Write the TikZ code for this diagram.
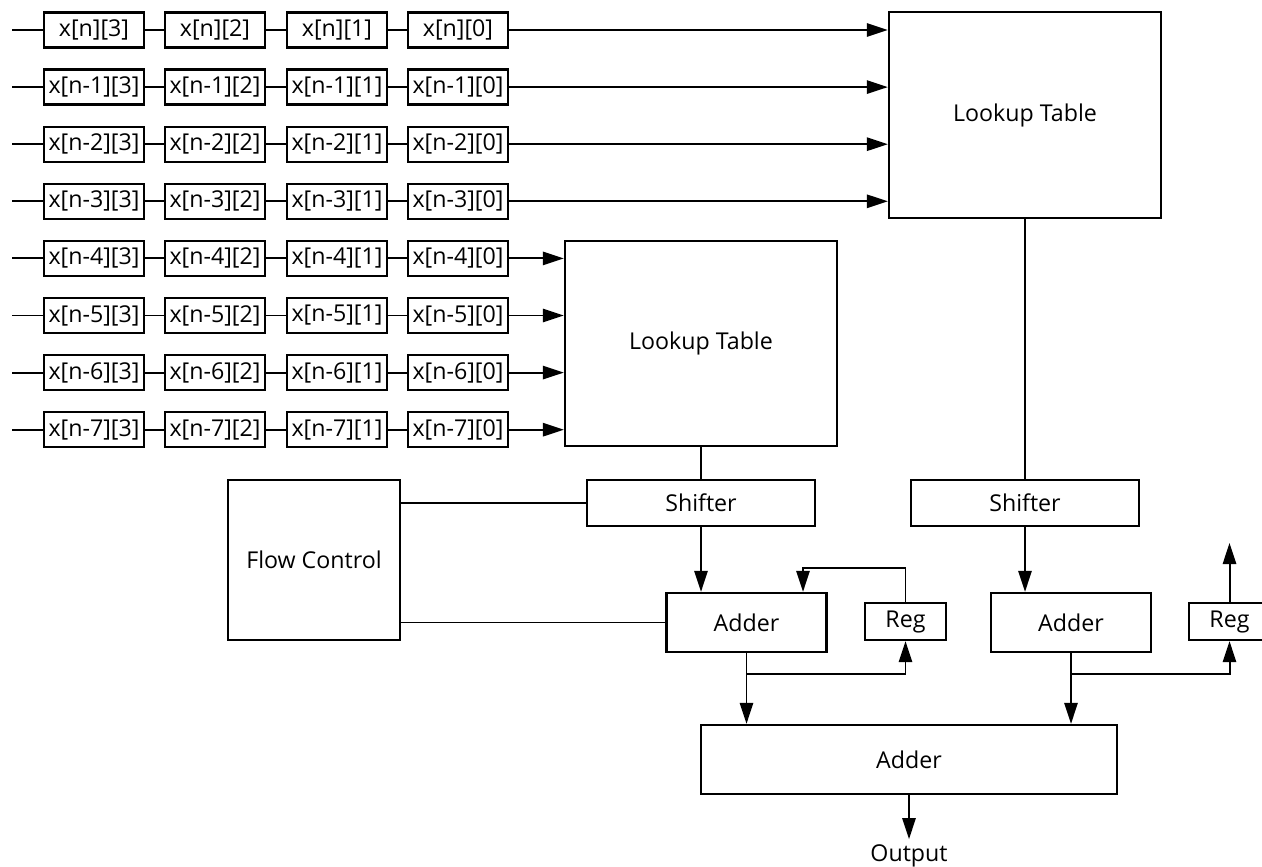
\documentclass[tikz,border=0pt]{standalone}
\usepackage{fontspec}
\setmainfont{Open Sans}
\usetikzlibrary{positioning,arrows.meta}

\tikzset{
    blocco/.style={draw, line width=1.6pt, inner sep=0pt, align=center},
    cella/.style={blocco, minimum width=2.5cm, minimum height=0.875cm},
    lut/.style={blocco, minimum width=6.8cm, minimum height=5.13cm},
    shifter/.style={blocco, minimum width=5.7cm, minimum height=1.15cm},
    adder/.style={blocco, minimum width=4cm, minimum height=1.475cm},
    regbox/.style={blocco, minimum width=2.025cm, minimum height=0.925cm},
    freccia/.style={-{Triangle[length=15pt,width=9.5pt]}},
}

\begin{document}
\begin{tikzpicture}[x=0.025cm, y=-0.025cm, line width=1.4pt, font=\fontsize{16.5}{19}\selectfont]
        \useasboundingbox (0,0) rectangle (1262,867);
        % BLOCCHI
        \node[lut] (lut1) at (1025,115) {Lookup Table};
        \node[lut] (lut2) at (701,343.5) {Lookup Table};
        \node[shifter] (shL) at (701,503) {Shifter};
        \node[shifter] (shR) at (1025,503) {Shifter};
        \node[blocco, minimum width=4.3cm, minimum height=4cm] (fc) at (314,560) {Flow Control};
        \node[adder] (addL) at (746.5,622.5) {Adder};
        \node[adder] (addR) at (1071,622.5) {Adder};
        \node[regbox] (regL) at (905.5,621.5) {Reg};
        \node[regbox] (regR) at (1229.5,621.5) {Reg};
        \node[blocco, minimum width=10.4cm, minimum height=1.725cm] (addB) at (909,759.5) {Adder};
        \node (out) at (909,856) {Output};

        % REGISTRI A SCORRIMENTO
        \foreach \r in {0,...,7} {
            \pgfmathsetmacro\yr{30+57.1*\r}
            \ifnum\r=0 \def\idx{n}\else \def\idx{n-\r}\fi
            \ifnum\r<4 \def\tab{lut1}\else \def\tab{lut2}\fi
            \coordinate (in\r) at (12,\yr);
            \foreach \c/\xc in {3/94,2/215,1/337,0/458}
                \node[cella] (x\r\c) at (\xc,\yr) {x[\idx][\c]};
            \draw (in\r) -- (x\r3);
            \draw (x\r3) -- (x\r2);
            \draw (x\r2) -- (x\r1);
            \draw (x\r1) -- (x\r0);
            \draw[freccia] (x\r0) -- (x\r0 -| \tab.west);
        }

        % COLLEGAMENTI
        \coordinate (fbL) at (803,568);
        \coordinate (brL) at (addL.south |- 0,674);
        \coordinate (brR) at (addR.south |- 0,674);
        \coordinate (uscR) at (regR.north |- 0,543);

        \draw (lut2) -- (shL);
        \draw (lut1) -- (shR);
        \draw[freccia] (shL) -- (shL |- addL.north);
        \draw[freccia] (shR) -- (shR |- addR.north);
        \draw (fc.east |- shL) -- (shL);
        \draw (fc.east |- addL) -- (addL);
        \draw[freccia] (regL.north) |- (fbL) -- (fbL |- addL.north);
        \draw[freccia] (addL) -- (addL |- addB.north);
        \draw[freccia] (brL) -| (regL.south);
        \draw[freccia] (addR) -- (addR |- addB.north);
        \draw[freccia] (brR) -| (regR.south);
        \draw[freccia] (regR) -- (uscR);
        \draw[freccia] (addB) -- (out);
\end{tikzpicture}
\end{document}
